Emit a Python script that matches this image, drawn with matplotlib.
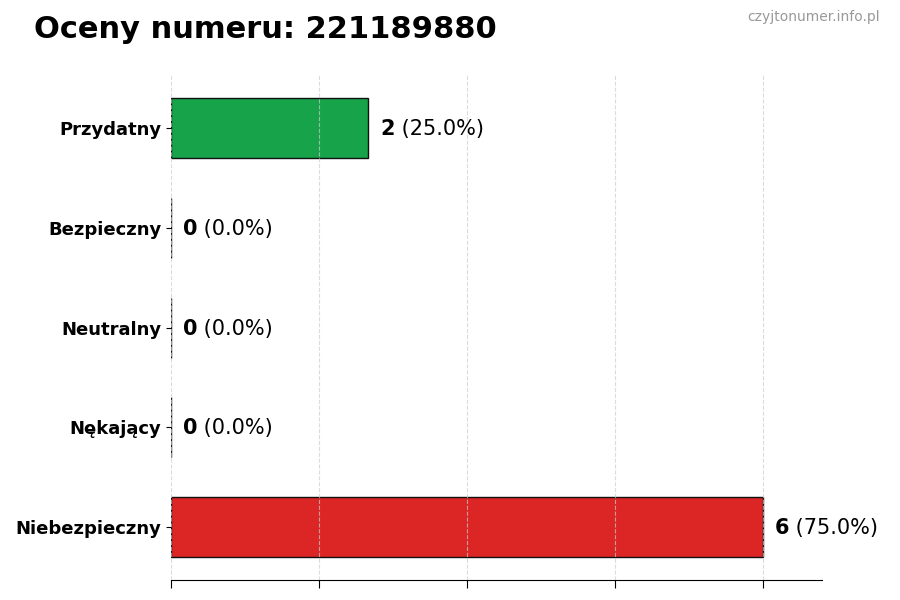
import matplotlib
matplotlib.use('Agg')
import matplotlib.pyplot as plt

categories = ['Przydatny', 'Bezpieczny', 'Neutralny', 'Nękający', 'Niebezpieczny']
counts = [2, 0, 0, 0, 6]
colors = ['#16a34a', '#16a34a', '#9ca3af', '#dc2626', '#dc2626']
number = '221189880'

total = sum(counts)
ypos = list(range(len(categories)))[::-1]

fig = plt.figure(figsize=(9, 6), dpi=100)
ax = fig.add_axes([0.19, 0.033, 0.723, 0.842])

ax.barh(ypos, counts, height=0.6, color=colors, edgecolor='#111111', linewidth=1, zorder=2)
ax.set_yticks(ypos)
ax.set_yticklabels(categories, fontsize=13, fontweight='bold')
ax.set_xlim(0, max(counts) * 1.1)
ax.set_xticks([0, 1.5, 3, 4.5, 6])
ax.set_xticklabels([])
ax.tick_params(axis='x', length=6)
ax.grid(axis='x', linestyle='--', color='#cccccc', linewidth=0.8, alpha=0.7, zorder=3)
ax.set_axisbelow(False)
for s in ['top', 'right', 'left']:
    ax.spines[s].set_visible(False)

for y, v in zip(ypos, counts):
    pct = 100.0 * v / total
    t = ax.text(v + 0.12, y - 0.01, str(v), fontsize=15, fontweight='bold', va='center', ha='left', zorder=4)
    ax.annotate(' (%.1f%%)' % pct, xy=(1, 0), xycoords=t, va='bottom', ha='left', fontsize=15, zorder=4)

fig.text(0.038, 0.95, 'Oceny numeru: ' + number, fontsize=22, fontweight='bold', va='center', ha='left')
fig.text(0.978, 0.972, 'czyjtonumer.info.pl', fontsize=10, color='#999999', va='center', ha='right')

fig.savefig('out.png', dpi=100)
